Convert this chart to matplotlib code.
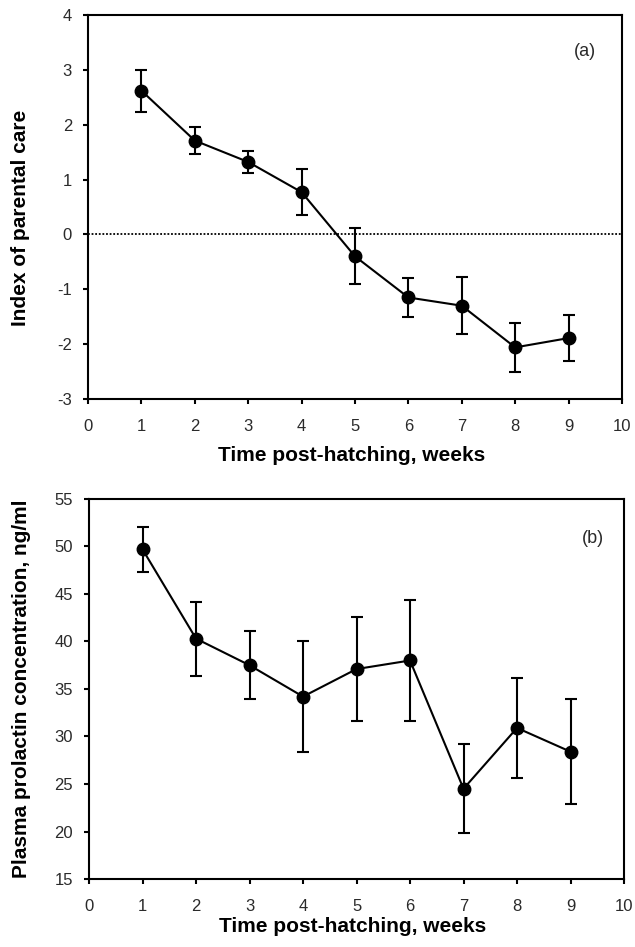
import numpy as np
import matplotlib.pyplot as plt

plt.rcParams['font.family'] = ['Liberation Sans', 'DejaVu Sans']
plt.rcParams['axes.unicode_minus'] = False

weeks = [1, 2, 3, 4, 5, 6, 7, 8, 9]

# (a) index of parental care, mean and error
care_mean = [2.62, 1.71, 1.32, 0.77, -0.40, -1.15, -1.30, -2.06, -1.89]
care_err = [0.38, 0.25, 0.20, 0.42, 0.51, 0.35, 0.52, 0.45, 0.42]

# (b) plasma prolactin, ng/ml
prl_mean = [49.7, 40.3, 37.5, 34.2, 37.1, 38.0, 24.5, 30.9, 28.4]
prl_err = [2.4, 3.9, 3.6, 5.8, 5.5, 6.4, 4.7, 5.3, 5.5]

fig = plt.figure(figsize=(6.35, 9.47), dpi=100)
ax1 = fig.add_axes([0.1386, 0.5787, 0.8409, 0.4055])
ax2 = fig.add_axes([0.1402, 0.0718, 0.8425, 0.4013])


def style_axis(ax, ylabel, xlab_y, ylab_x, ylab_y):
    for s in ax.spines.values():
        s.set_linewidth(1.5)
    ax.tick_params(direction='out', length=3.5, width=1.5, labelsize=12,
                   labelcolor='#2a2a2a')
    ax.tick_params(axis='x', pad=11)
    ax.tick_params(axis='y', pad=8)
    ax.set_xlim(0, 10)
    ax.set_xticks(range(0, 11))
    ax.set_xlabel('Time post-hatching, weeks', fontsize=15, fontweight='bold')
    ax.set_ylabel(ylabel, fontsize=15, fontweight='bold')
    ax.xaxis.set_label_coords(0.493, xlab_y)
    ax.yaxis.set_label_coords(ylab_x, ylab_y)


ax1.axhline(0, color='black', linestyle=(0, (1, 1)), linewidth=1.3)
ax1.errorbar(weeks, care_mean, yerr=care_err, color='black', marker='o', markersize=9,
             linewidth=1.5, elinewidth=1.5, capsize=4.5, capthick=1.5)
ax1.set_ylim(-3, 4)
ax1.set_yticks(range(-3, 5))
style_axis(ax1, 'Index of parental care', -0.122, -0.109, 0.471)
ax1.text(0.93, 0.905, '(a)', transform=ax1.transAxes, ha='center', va='center',
         fontsize=13, color='#2a2a2a')

ax2.errorbar(weeks, prl_mean, yerr=prl_err, color='black', marker='o', markersize=9,
             linewidth=1.5, elinewidth=1.5, capsize=4.5, capthick=1.5)
ax2.set_ylim(15, 55)
ax2.set_yticks(range(15, 56, 5))
style_axis(ax2, 'Plasma prolactin concentration, ng/ml', -0.100, -0.108, 0.5)
ax2.text(0.942, 0.897, '(b)', transform=ax2.transAxes, ha='center', va='center',
         fontsize=13, color='#2a2a2a')

fig.savefig('out.png', dpi=100)
